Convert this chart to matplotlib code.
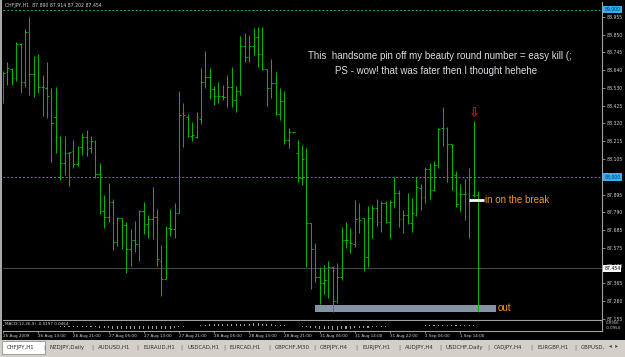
import matplotlib
matplotlib.use("Agg")
import matplotlib.pyplot as plt
from matplotlib.patches import Rectangle
import numpy as np

# ── Data (CHFJPY H1 bars) ───────────────────────────────────────────────────
HIGH = [88.635, 88.689, 88.653, 88.806, 88.802, 88.882, 88.955, 88.722, 88.732, 88.609,
        88.689, 88.529, 88.535, 88.245, 88.245, 88.151, 88.221, 88.185, 88.261, 88.281,
        88.245, 88.221, 88.082, 87.893, 87.966, 87.869, 87.763, 87.757, 87.733, 87.690,
        87.737, 87.803, 87.849, 87.773, 87.938, 87.807, 87.594, 87.705, 87.809, 87.843,
        88.515, 88.444, 88.376, 88.330, 88.390, 88.649, 88.752, 88.649, 88.543, 88.565,
        88.549, 88.609, 88.659, 88.543, 88.842, 88.858, 88.848, 88.888, 88.897, 88.897,
        88.643, 88.702, 88.625, 88.529, 88.513, 88.290, 88.271, 88.221, 88.191, 88.171,
        87.723, 87.604, 87.465, 87.475, 87.501, 87.471, 87.489, 87.703, 87.733, 87.694,
        87.863, 87.847, 87.757, 87.827, 87.833, 87.867, 87.857, 87.857, 87.863, 87.998,
        87.922, 87.803, 87.902, 87.873, 87.998, 87.958, 88.062, 88.086, 88.096, 88.291,
        88.416, 88.297, 88.195, 88.038, 87.958, 87.988, 88.052, 88.336, 87.914]
LOW = [88.440, 88.549, 88.549, 88.575, 88.499, 88.535, 88.490, 88.476, 88.503, 88.364,
       88.354, 88.092, 88.141, 87.982, 88.012, 87.948, 88.056, 88.068, 88.131, 88.127,
       88.141, 87.992, 87.777, 87.698, 87.733, 87.564, 87.590, 87.568, 87.425, 87.469,
       87.554, 87.501, 87.658, 87.638, 87.630, 87.469, 87.292, 87.389, 87.648, 87.638,
       87.783, 88.177, 88.241, 88.217, 88.231, 88.316, 88.529, 88.466, 88.430, 88.444,
       88.460, 88.416, 88.416, 88.390, 88.490, 88.689, 88.685, 88.728, 88.659, 88.639,
       88.424, 88.474, 88.370, 88.340, 88.195, 88.171, 88.261, 87.972, 87.952, 87.465,
       87.331, 87.375, 87.242, 87.302, 87.276, 87.196, 87.250, 87.385, 87.578, 87.544,
       87.584, 87.664, 87.441, 87.461, 87.634, 87.707, 87.674, 87.727, 87.638, 87.813,
       87.700, 87.668, 87.719, 87.674, 87.769, 87.803, 87.843, 87.867, 87.918, 88.052,
       88.187, 87.972, 87.922, 87.819, 87.797, 87.743, 87.638, 87.883, 87.202]
OPEN = [88.460, 88.625, 88.645, 88.589, 88.794, 88.569, 88.864, 88.613, 88.718, 88.539,
        88.529, 88.499, 88.360, 88.241, 88.086, 88.145, 88.157, 88.076, 88.181, 88.237,
        88.171, 88.207, 88.016, 87.799, 87.759, 87.853, 87.610, 87.753, 87.713, 87.568,
        87.624, 87.600, 87.799, 87.719, 87.749, 87.759, 87.501, 87.391, 87.694, 87.688,
        87.787, 88.380, 88.360, 88.247, 88.241, 88.346, 88.569, 88.599, 88.523, 88.486,
        88.486, 88.480, 88.539, 88.460, 88.513, 88.784, 88.718, 88.782, 88.838, 88.732,
        88.643, 88.533, 88.559, 88.374, 88.456, 88.221, 88.267, 88.145, 87.992, 88.111,
        87.723, 87.568, 87.401, 87.369, 87.385, 87.465, 87.262, 87.401, 87.624, 87.614,
        87.598, 87.753, 87.753, 87.524, 87.753, 87.813, 87.729, 87.843, 87.733, 87.849,
        87.902, 87.749, 87.773, 87.723, 87.773, 87.932, 87.883, 88.046, 87.922, 88.072,
        88.291, 88.291, 88.195, 88.012, 87.897, 87.897, 87.899, 87.895, 87.890]
CLOSE = [88.620, 88.649, 88.589, 88.794, 88.569, 88.864, 88.613, 88.718, 88.539, 88.535,
         88.484, 88.324, 88.241, 88.082, 88.145, 88.147, 88.076, 88.181, 88.237, 88.165,
         88.215, 88.016, 87.799, 87.759, 87.853, 87.610, 87.753, 87.713, 87.568, 87.624,
         87.600, 87.799, 87.719, 87.749, 87.759, 87.508, 87.391, 87.694, 87.688, 87.783,
         88.370, 88.370, 88.247, 88.251, 88.356, 88.569, 88.599, 88.523, 88.486, 88.484,
         88.480, 88.539, 88.460, 88.513, 88.784, 88.718, 88.782, 88.838, 88.732, 88.643,
         88.533, 88.559, 88.374, 88.456, 88.221, 88.267, 88.267, 87.992, 88.105, 87.723,
         87.570, 87.401, 87.369, 87.385, 87.465, 87.262, 87.401, 87.624, 87.624, 87.604,
         87.749, 87.743, 87.524, 87.753, 87.813, 87.729, 87.843, 87.733, 87.849, 87.902,
         87.749, 87.773, 87.723, 87.783, 87.938, 87.883, 88.046, 87.922, 88.072, 88.285,
         88.291, 88.195, 88.191, 87.839, 87.897, 87.899, 87.863, 87.889, 87.454]

# MACD histogram (rough reading of the tiny sub-window ticks)
MACD = [0.12, 0.13, 0.13, 0.15, 0.14, 0.16, 0.15, 0.15, 0.13, 0.11,
        0.09, 0.04, 0.00, -0.05, -0.08, -0.10, -0.12, -0.12, -0.11, -0.11,
        -0.10, -0.13, -0.17, -0.21, -0.22, -0.25, -0.25, -0.26, -0.29, -0.29,
        -0.29, -0.26, -0.25, -0.24, -0.23, -0.25, -0.28, -0.26, -0.24, -0.21,
        -0.12, -0.06, -0.02, 0.01, 0.04, 0.09, 0.13, 0.15, 0.16, 0.17,
        0.17, 0.18, 0.17, 0.17, 0.20, 0.21, 0.22, 0.24, 0.24, 0.22,
        0.19, 0.17, 0.13, 0.11, 0.06, 0.03, 0.01, -0.04, -0.06, -0.11,
        -0.16, -0.21, -0.25, -0.28, -0.29, -0.32, -0.32, -0.29, -0.26, -0.24,
        -0.20, -0.17, -0.17, -0.14, -0.11, -0.10, -0.07, -0.06, -0.04, -0.01,
        -0.01, -0.01, -0.01, 0.00, 0.03, 0.04, 0.06, 0.07, 0.08, 0.11,
        0.13, 0.13, 0.12, 0.10, 0.09, 0.08, 0.07, 0.07, -0.02]

TIME_LABELS = ["26 Aug 2009", "26 Aug 13:00", "26 Aug 21:00", "27 Aug 05:00",
               "27 Aug 13:00", "27 Aug 21:00", "28 Aug 05:00", "28 Aug 13:00",
               "28 Aug 21:00", "31 Aug 06:00", "31 Aug 14:00", "31 Aug 22:00",
               "1 Sep 06:00", "1 Sep 14:00"]
PRICE_TICKS = [88.955, 88.850, 88.745, 88.640, 88.530, 88.425, 88.320, 88.215, 88.105,
               87.895, 87.790, 87.685, 87.575, 87.470, 87.365, 87.260, 87.155]
HLINES = [89.000, 88.000]
LAST_PRICE = 87.454
TITLE = "CHFJPY,H1  87.890 87.914 87.202 87.454"
MACD_TITLE = "MACD(12,26,9) -0.0197 0.0464"
MACD_SCALE = ["0.0956", "-0.0954"]

IN_PRICE = 87.863
OUT_LOW, OUT_HIGH = 87.194, 87.236
OUT_START, OUT_END = 71, 112
ARROW_BAR, ARROW_PRICE = 107, 88.376

TABS = ["CHFJPY,H1", "NZDJPY,Daily", "AUDUSD,H1", "EURAUD,H1", "USDCAD,H1",
        "EURCAD,H1", "GBPCHF,M30", "GBPJPY,H4", "EURJPY,H1", "AUDJPY,H4",
        "USDCHF,Daily", "CADJPY,H4", "EURGBP,H1", "GBPUSD,"]
TAB_X = [7, 50, 98, 143, 187, 230, 275, 320, 362, 405, 446, 494, 537, 581]

W, H = 625, 357
BAR_COL = "#00b400"
TXT = "#d0d0d0"
ORANGE = "#ff9214"


def fx(x):
    return x / W


def fy(y):
    return 1 - y / H


fig = plt.figure(figsize=(W / 100, H / 100), dpi=100, facecolor="black")

# ── main price window ────────────────────────────────────────────────────────
ax = fig.add_axes([fx(3), fy(320), fx(599), 318 / H], facecolor="black")
idx = np.arange(len(HIGH))
ax.vlines(idx, LOW, HIGH, color=BAR_COL, lw=0.75)
ax.hlines(OPEN, idx - 0.38, idx, color=BAR_COL, lw=0.75)
ax.hlines(CLOSE, idx, idx + 0.38, color=BAR_COL, lw=0.75)

for lv in HLINES:
    ax.axhline(lv, color="#2a9aa8", lw=0.7, ls=(0, (2, 2)), zorder=0)
ax.axhline(LAST_PRICE, color="#4a4a4a", lw=0.7, zorder=0)

ax.set_xlim(0.0, 136.2)
ax.set_ylim(87.1463, 89.0448)
for s in ax.spines.values():
    s.set_visible(False)
for side in ("right", "bottom"):
    ax.spines[side].set_visible(True)
    ax.spines[side].set_color("#a0a0a0")
    ax.spines[side].set_linewidth(0.8)
ax.set_xticks([])
ax.yaxis.tick_right()
ax.set_yticks(PRICE_TICKS, [f"{p:.3f}" for p in PRICE_TICKS])
ax.tick_params(axis="y", length=2, width=0.6, color="#a0a0a0", labelcolor=TXT,
               labelsize=3.3, pad=1.5)

ytr = ax.get_yaxis_transform()
for lv in HLINES:
    ax.text(1.004, lv, f"{lv:.3f}", transform=ytr, fontsize=3.3, color="#0a2a50",
            va="center", ha="left", zorder=6,
            bbox=dict(boxstyle="square,pad=0.25", fc="#38b0f0", ec="none"))
ax.text(1.004, LAST_PRICE, f"{LAST_PRICE:.3f}", transform=ytr, fontsize=3.3,
        color="black", va="center", ha="left", zorder=6,
        bbox=dict(boxstyle="square,pad=0.2", fc="white", ec="none"))

# annotations
ax.add_patch(Rectangle((OUT_START, OUT_LOW), OUT_END - OUT_START, OUT_HIGH - OUT_LOW,
                       fc="#8494a4", ec="none", zorder=1))
ax.text(OUT_END + 0.5, (OUT_LOW + OUT_HIGH) / 2, "out", color=ORANGE,
        fontsize=7, family="Liberation Sans", va="center", ha="left")
ax.hlines(IN_PRICE, ARROW_BAR - 1.0, ARROW_BAR + 2.4, color="white", lw=2.0, zorder=4)
ax.text(ARROW_BAR + 2.6, IN_PRICE, "in on the break", color=ORANGE,
        fontsize=7, family="Liberation Sans", va="center", ha="left")
ax.text(ARROW_BAR, ARROW_PRICE, "\u21e9", color="#d01818", fontsize=9.5,
        va="center", ha="center", family="DejaVu Sans", fontweight="bold")

fig.text(fx(440), fy(56), "This  handsome pin off my beauty round number = easy kill (;",
         color="#dcdce4", fontsize=7.0, family="Liberation Sans", ha="center", va="center")
fig.text(fx(436), fy(71), "PS - wow! that was fater then I thought hehehe",
         color="#dcdce4", fontsize=7.0, family="Liberation Sans", ha="center", va="center")
fig.text(fx(5), fy(6), TITLE, color=TXT, fontsize=3.3, ha="left", va="center")

# ── MACD window ──────────────────────────────────────────────────────────────
ax2 = fig.add_axes([fx(3), fy(331), fx(599), 10 / H], facecolor="black")
ax2.bar(idx, MACD, width=0.25, color="#a0a0a0", lw=0)
ax2.set_xlim(ax.get_xlim())
ax2.set_ylim(-0.45, 0.45)
for s in ax2.spines.values():
    s.set_visible(False)
for side in ("right", "bottom"):
    ax2.spines[side].set_visible(True)
    ax2.spines[side].set_color("#a0a0a0")
    ax2.spines[side].set_linewidth(0.8)
ax2.set_yticks([])
ax2.set_xticks(np.arange(len(TIME_LABELS)) * 8, TIME_LABELS)
ax2.tick_params(axis="x", length=1.5, width=0.6, color="#a0a0a0", labelcolor=TXT,
                labelsize=3.0, pad=1.0)
for lab in ax2.get_xticklabels():
    lab.set_ha("left")
fig.text(fx(5), fy(324), MACD_TITLE, color=TXT, fontsize=3.0, ha="left", va="center",
         bbox=dict(boxstyle="square,pad=0.1", fc="black", ec="none"))
fig.text(fx(606), fy(323.5), MACD_SCALE[0], color=TXT, fontsize=2.8, ha="left", va="center")
fig.text(fx(606), fy(328), MACD_SCALE[1], color=TXT, fontsize=2.8, ha="left", va="center")

# ── window border and tab bar ────────────────────────────────────────────────
fig.add_artist(Rectangle((0, fy(340)), fx(2), fy(0) - fy(340), transform=fig.transFigure,
                         fc="#a8a8a8", ec="none"))
fig.add_artist(Rectangle((0, 0), 1, fy(340), transform=fig.transFigure,
                         fc="#d4d0c8", ec="none"))
fig.add_artist(Rectangle((fx(2), fy(354)), fx(43), 13 / H, transform=fig.transFigure,
                         fc="white", ec="#808080", lw=0.5))
for i, (name, x) in enumerate(zip(TABS, TAB_X)):
    fig.text(fx(x), fy(347), name, color="#303030", fontsize=3.9, ha="left", va="center")
    if i > 0:
        fig.text(fx(x - 6), fy(347), "|", color="#707070", fontsize=4.5, ha="center",
                 va="center")
fig.text(fx(609), fy(347), "\u25c2  \u25b8", color="#404040", fontsize=4, ha="left",
         va="center")

fig.savefig("out.png", dpi=100, facecolor="black")
